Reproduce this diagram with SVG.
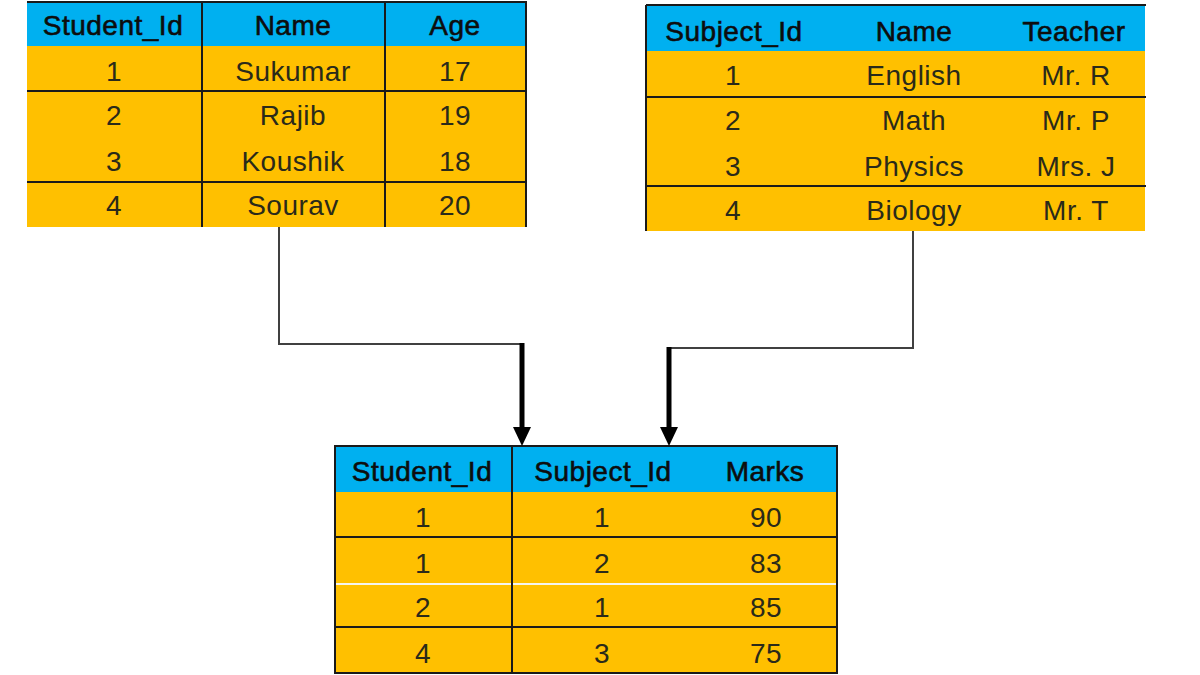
<svg xmlns="http://www.w3.org/2000/svg" width="1200" height="675" viewBox="0 0 1200 675">
<style>
.hd{fill:#00B0F0}
.bd{fill:#FFC000}
.ln{stroke:#1a1a1a;stroke-width:2;fill:none}
.wl{stroke:#f4f4f0;stroke-width:2;fill:none}
text{font-family:"Liberation Sans",Arial,sans-serif;font-size:28px;letter-spacing:0.5px;text-anchor:middle}
.th{fill:#0d0d0d;stroke:#0d0d0d;stroke-width:0.6}
.td{fill:#2a2a1a}
.thin{stroke:#404040;stroke-width:2;fill:none}
.thick{stroke:#000;stroke-width:5;fill:none;marker-end:url(#arr)}
</style>
<defs>
<marker id="arr" markerUnits="userSpaceOnUse" markerWidth="19" markerHeight="18" refX="5" refY="9" orient="auto">
<path d="M0,0 L19,9 L0,18 z" fill="#000"/>
</marker>
</defs>
<rect width="1200" height="675" fill="#fff"/>

<g id="students">
<rect class="hd" x="27" y="2" width="500" height="44"/>
<rect class="bd" x="27" y="46" width="500" height="181"/>
<path class="ln" d="M27 2 H527 M202 2 V227 M385 2 V227 M526 2 V227 M27 91 H527 M27 182 H527"/>
<text class="th" x="113" y="35">Student_Id</text>
<text class="th" x="293" y="35">Name</text>
<text class="th" x="455" y="35">Age</text>
<text class="td" x="114" y="81">1</text>
<text class="td" x="293" y="81">Sukumar</text>
<text class="td" x="455" y="81">17</text>
<text class="td" x="114" y="125">2</text>
<text class="td" x="293" y="125">Rajib</text>
<text class="td" x="455" y="125">19</text>
<text class="td" x="114" y="171">3</text>
<text class="td" x="293" y="171">Koushik</text>
<text class="td" x="455" y="171">18</text>
<text class="td" x="114" y="215">4</text>
<text class="td" x="293" y="215">Sourav</text>
<text class="td" x="455" y="215">20</text>
</g>

<g id="subjects">
<rect class="hd" x="646" y="5" width="499" height="46"/>
<rect class="bd" x="646" y="51" width="499" height="180"/>
<path class="ln" d="M646 5 H1146 M646 5 V231 M646 97 H1146 M646 186 H1146"/>
<text class="th" x="734" y="41">Subject_Id</text>
<text class="th" x="914" y="41">Name</text>
<text class="th" x="1074" y="41">Teacher</text>
<text class="td" x="733" y="85">1</text>
<text class="td" x="914" y="85">English</text>
<text class="td" x="1076" y="85">Mr. R</text>
<text class="td" x="733" y="130">2</text>
<text class="td" x="914" y="130">Math</text>
<text class="td" x="1076" y="130">Mr. P</text>
<text class="td" x="733" y="176">3</text>
<text class="td" x="914" y="176">Physics</text>
<text class="td" x="1076" y="176">Mrs. J</text>
<text class="td" x="733" y="220">4</text>
<text class="td" x="914" y="220">Biology</text>
<text class="td" x="1076" y="220">Mr. T</text>
</g>

<g id="marks">
<rect class="hd" x="335" y="446" width="502" height="46"/>
<rect class="bd" x="335" y="492" width="502" height="181"/>
<path class="wl" d="M336 584 H836"/>
<path class="ln" d="M335 446 H837 V673 H335 Z M512 446 V673 M335 537 H837 M335 627 H837"/>
<text class="th" x="422" y="481">Student_Id</text>
<text class="th" x="603" y="481">Subject_Id</text>
<text class="th" x="765" y="481">Marks</text>
<text class="td" x="423" y="527">1</text>
<text class="td" x="602" y="527">1</text>
<text class="td" x="766" y="527">90</text>
<text class="td" x="423" y="573">1</text>
<text class="td" x="602" y="573">2</text>
<text class="td" x="766" y="573">83</text>
<text class="td" x="423" y="617">2</text>
<text class="td" x="602" y="617">1</text>
<text class="td" x="766" y="617">85</text>
<text class="td" x="423" y="663">4</text>
<text class="td" x="602" y="663">3</text>
<text class="td" x="766" y="663">75</text>
</g>

<g id="connectors">
<path class="thin" d="M279 227 V344 H522"/>
<path class="thick" d="M522 343 V432"/>
<path class="thin" d="M913 231 V348 H669"/>
<path class="thick" d="M669 347 V432"/>
</g>
</svg>
